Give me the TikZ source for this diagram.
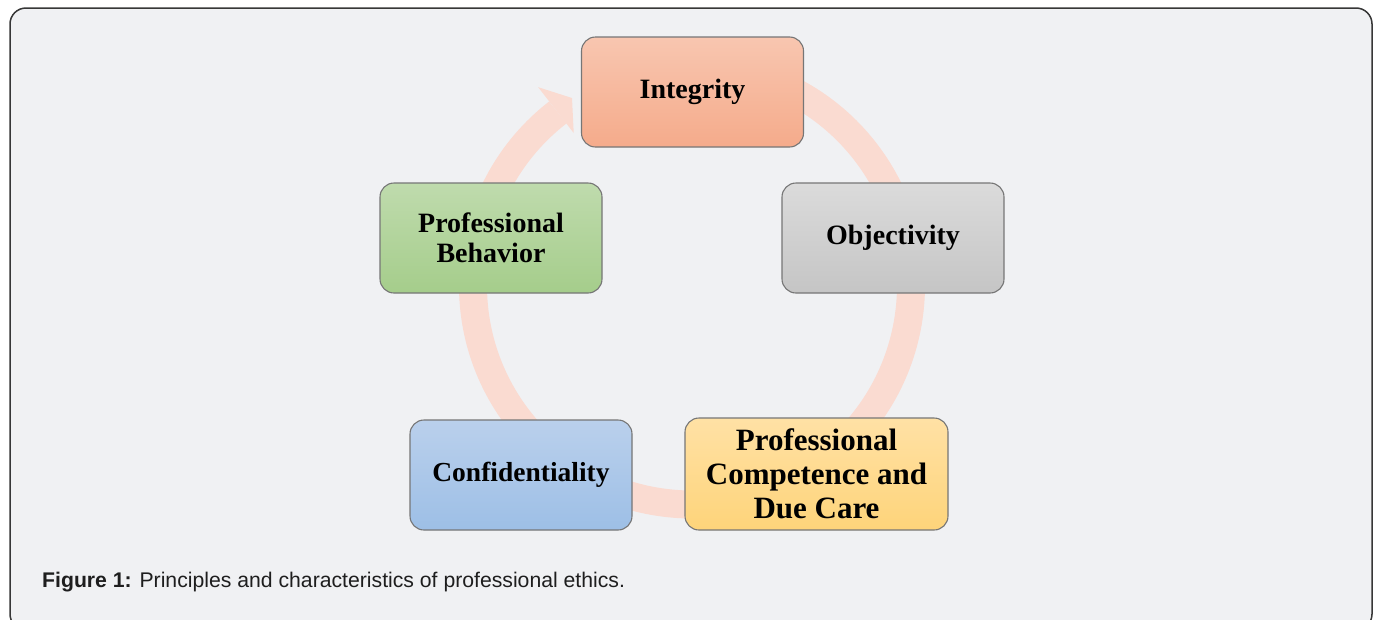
\documentclass[tikz,border=0pt]{standalone}
\usepackage{fontspec}
\setmainfont{Liberation Serif}
\newfontfamily\captionfont{Liberation Sans}

\definecolor{panelbg}{RGB}{240,241,243}
\definecolor{panelline}{RGB}{55,55,55}
\definecolor{ringcol}{RGB}{250,219,209}
\definecolor{boxline}{RGB}{118,118,118}
\definecolor{captext}{RGB}{30,30,30}

\begin{document}
\begin{tikzpicture}[x=1pt, y=-1pt, >=stealth,
  stepbox/.style={draw=boxline, line width=1.1pt, rounded corners=14pt, inner sep=0pt,
    minimum width=222pt, minimum height=110pt, align=center,
    font=\fontsize{28}{30}\selectfont\bfseries}]
  \path[use as bounding box, clip] (0,0) rectangle (1380,619);
  \fill[white] (0,0) rectangle (1380,619);
  \draw[fill=panelbg, draw=panelline, line width=1.5pt, rounded corners=16pt] (10,8) rectangle (1372,630);

  % ring behind the boxes, ending in the arrow head next to Integrity
  \coordinate (hub) at (692,285.5);
  \draw[ringcol, line width=28pt] ([shift={(-127.8:219)}]hub) arc[start angle=-127.8, end angle=-450, radius=219];
  \fill[ringcol] ([shift={(-127.8:251)}]hub) -- (572,98) -- ([shift={(-127.8:193)}]hub) -- cycle;

  \node [stepbox, top color={rgb,255:red,248;green,198;blue,176}, bottom color={rgb,255:red,245;green,171;blue,139}] (integrity) at (692.5,92) {Integrity};
  \node [stepbox, top color={rgb,255:red,219;green,219;blue,219}, bottom color={rgb,255:red,197;green,197;blue,197}] (objectivity) at (893,238) {Objectivity};
  \node [stepbox, minimum width=263pt, minimum height=112pt, font=\fontsize{31}{34}\selectfont\bfseries,
    top color={rgb,255:red,255;green,225;blue,165}, bottom color={rgb,255:red,254;green,212;blue,122}] (competence) at (816.5,474) {Professional\\Competence and\\Due Care};
  \node [stepbox, font=\fontsize{27.5}{30}\selectfont\bfseries, top color={rgb,255:red,186;green,208;blue,236}, bottom color={rgb,255:red,157;green,191;blue,230}] (confidentiality) at (521,475) {Confidentiality};
  \node [stepbox, top color={rgb,255:red,191;green,219;blue,173}, bottom color={rgb,255:red,165;green,205;blue,139}] (behavior) at (491,238) {Professional\\Behavior};

  \node [anchor=base west, inner sep=0pt, text=captext, font=\captionfont\fontsize{21.2}{24}\selectfont] (caption) at (42,587)
    {\textbf{Figure 1:} Principles and characteristics of professional ethics.};
\end{tikzpicture}
\end{document}
